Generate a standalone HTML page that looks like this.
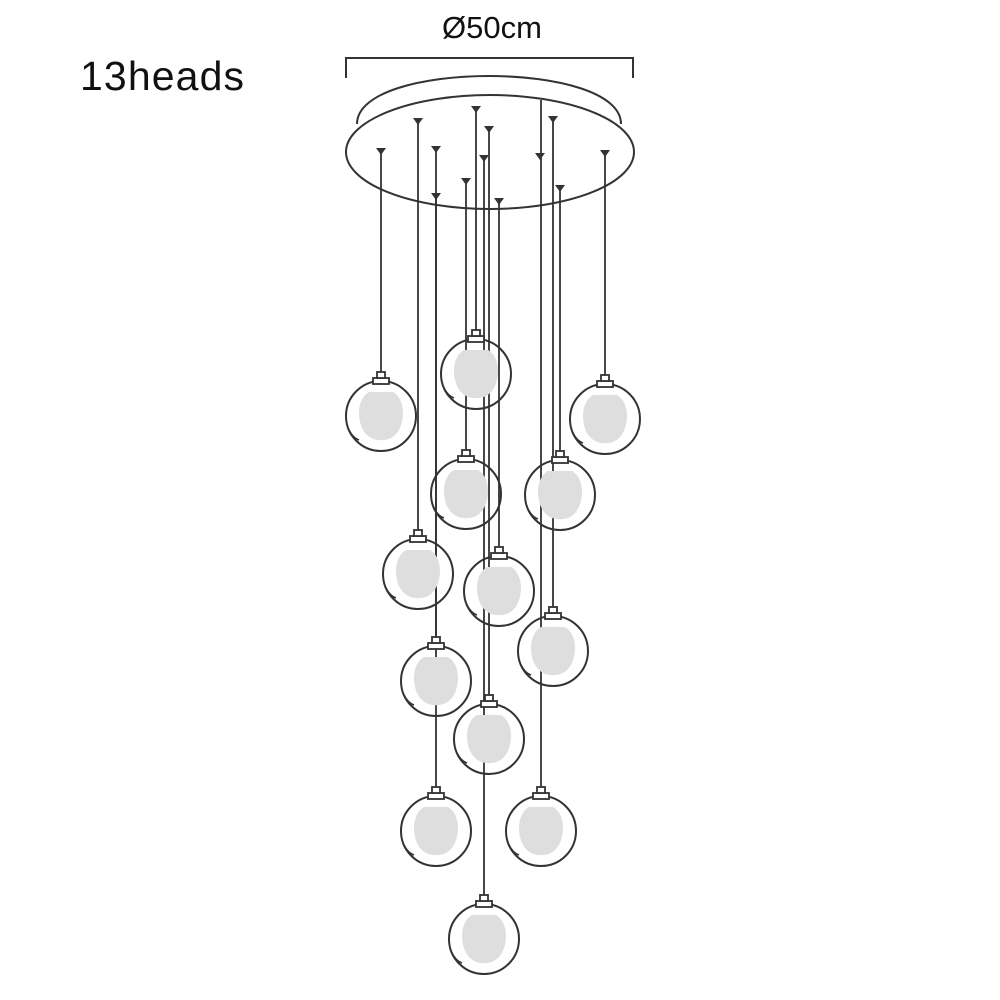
<!DOCTYPE html>
<html><head><style>body{margin:0;background:#fff}svg{display:block}</style></head><body>
<svg width="1000" height="1000" viewBox="0 0 1000 1000" xmlns="http://www.w3.org/2000/svg">
<defs>
<g id="globe">
<path d="M-12,-24 C-26,-16 -24,10 -14,19 C-7,26 7,26 14,19 C24,10 26,-16 12,-24 Z" fill="#dedede"/>
<circle r="35" fill="none" stroke="#333" stroke-width="2"/>
<rect x="-8" y="-38" width="16" height="6" fill="#fff" stroke="#333" stroke-width="1.8"/>
<rect x="-4" y="-44" width="8" height="6" fill="#fff" stroke="#333" stroke-width="1.8"/>
<path d="M-32,14 Q-28,22 -22,24" fill="none" stroke="#333" stroke-width="1.5"/>
</g>
<path id="tri" d="M-5,-2 L5,-2 L0,5 Z" fill="#333"/>
</defs>
<text x="80" y="90" font-family="Liberation Sans, sans-serif" font-size="41" fill="#111" textLength="164">13heads</text>
<text x="492" y="38" text-anchor="middle" font-family="Liberation Sans, sans-serif" font-size="31" fill="#111">Ø50cm</text>
<path d="M346,78 V58 H633 V78" fill="none" stroke="#333" stroke-width="2"/>
<path d="M357,124 C357,60 621,60 621,124" fill="none" stroke="#333" stroke-width="2"/>
<ellipse cx="490" cy="152" rx="144" ry="57" fill="#fff" stroke="#333" stroke-width="2"/>
<g stroke="#333" stroke-width="1.8">
<line x1="381" y1="150" x2="381" y2="372"/>
<line x1="418" y1="120" x2="418" y2="530"/>
<line x1="436" y1="148" x2="436" y2="637"/>
<line x1="436" y1="195" x2="436" y2="787"/>
<line x1="476" y1="108" x2="476" y2="330"/>
<line x1="466" y1="180" x2="466" y2="450"/>
<line x1="484" y1="157" x2="484" y2="895"/>
<line x1="489" y1="128" x2="489" y2="695"/>
<line x1="499" y1="200" x2="499" y2="547"/>
<line x1="541" y1="100" x2="541" y2="787"/>
<line x1="553" y1="118" x2="553" y2="607"/>
<line x1="560" y1="187" x2="560" y2="451"/>
<line x1="605" y1="152" x2="605" y2="375"/>
</g>
<g>
<use href="#tri" x="381" y="150"/><use href="#tri" x="418" y="120"/><use href="#tri" x="436" y="148"/>
<use href="#tri" x="436" y="195"/><use href="#tri" x="476" y="108"/><use href="#tri" x="466" y="180"/>
<use href="#tri" x="484" y="157"/><use href="#tri" x="489" y="128"/><use href="#tri" x="499" y="200"/>
<use href="#tri" x="540" y="155"/><use href="#tri" x="553" y="118"/><use href="#tri" x="560" y="187"/>
<use href="#tri" x="605" y="152"/>
</g>
<use href="#globe" x="381" y="416"/>
<use href="#globe" x="476" y="374"/>
<use href="#globe" x="605" y="419"/>
<use href="#globe" x="466" y="494"/>
<use href="#globe" x="560" y="495"/>
<use href="#globe" x="418" y="574"/>
<use href="#globe" x="499" y="591"/>
<use href="#globe" x="553" y="651"/>
<use href="#globe" x="436" y="681"/>
<use href="#globe" x="489" y="739"/>
<use href="#globe" x="436" y="831"/>
<use href="#globe" x="541" y="831"/>
<use href="#globe" x="484" y="939"/>
</svg>
</body></html>
